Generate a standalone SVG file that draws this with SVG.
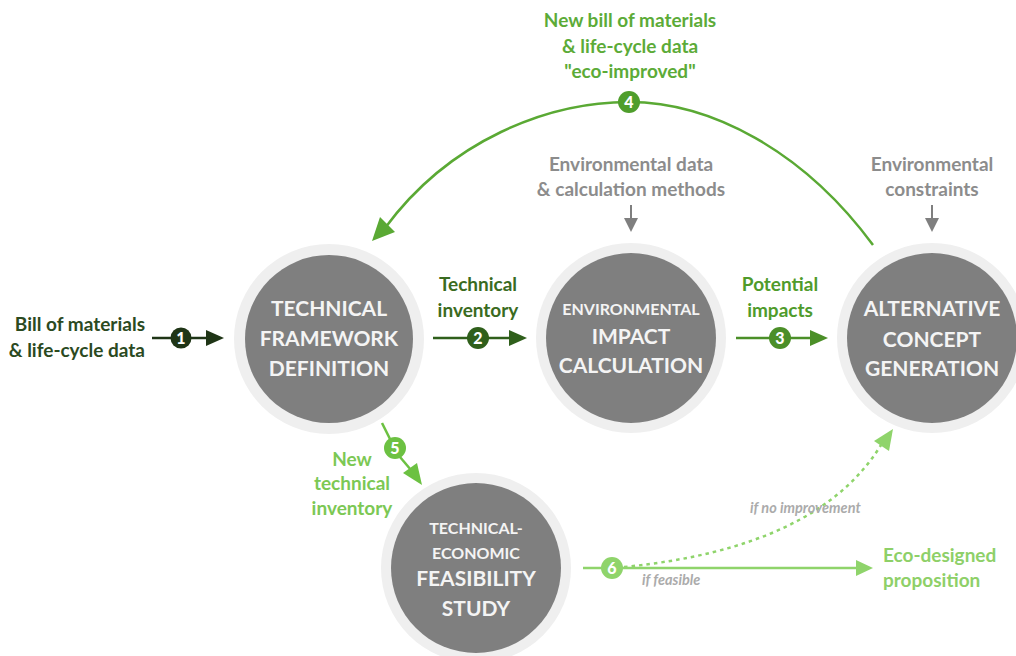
<svg xmlns="http://www.w3.org/2000/svg" width="1016" height="656" viewBox="0 0 1016 656">
<style>
.ring{fill:#efefef}
.core{fill:#7f7f7f}
.ct{font-family:Lato,"Liberation Sans",sans-serif;font-weight:700;fill:#f4f4f4;text-anchor:middle}
.big{font-size:21px}
.sm{font-size:16px}
.lbl{font-family:Lato,"Liberation Sans",sans-serif;font-weight:700;font-size:19px}
.num{font-family:Lato,"Liberation Sans",sans-serif;font-weight:900;font-size:16px;fill:#ffffff;text-anchor:middle}
.it{font-family:Lato,"Liberation Sans",sans-serif;font-style:italic;font-weight:700;font-size:14.5px;fill:#ababab}
</style>
<rect width="1016" height="656" fill="#ffffff"/>

<g id="node-technical-framework">
<circle class="ring" cx="329" cy="339" r="95"/>
<circle class="core" cx="329" cy="339" r="84"/>
<text class="ct big" x="329" y="316">TECHNICAL</text>
<text class="ct big" x="329" y="346">FRAMEWORK</text>
<text class="ct big" x="329" y="376">DEFINITION</text>
</g>

<g id="node-environmental-impact">
<circle class="ring" cx="631" cy="338" r="95"/>
<circle class="core" cx="631" cy="338" r="85"/>
<text class="ct sm" x="631" y="315">ENVIRONMENTAL</text>
<text class="ct big" x="631" y="344">IMPACT</text>
<text class="ct big" x="631" y="373">CALCULATION</text>
</g>

<g id="node-alternative-concept">
<circle class="ring" cx="932" cy="338" r="95"/>
<circle class="core" cx="932" cy="338" r="85"/>
<text class="ct big" x="932" y="316">ALTERNATIVE</text>
<text class="ct big" x="932" y="347">CONCEPT</text>
<text class="ct big" x="932" y="376">GENERATION</text>
</g>

<g id="node-feasibility">
<circle class="ring" cx="476" cy="568" r="95"/>
<circle class="core" cx="476" cy="568" r="85"/>
<text class="ct sm" x="476" y="534">TECHNICAL-</text>
<text class="ct sm" x="476" y="559">ECONOMIC</text>
<text class="ct big" x="476" y="586">FEASIBILITY</text>
<text class="ct big" x="476" y="616">STUDY</text>
</g>

<g id="connectors">
<!-- 1 -->
<line x1="152" y1="338" x2="172" y2="338" stroke="#1f3516" stroke-width="2.5"/>
<line x1="190" y1="338" x2="208" y2="338" stroke="#1f3516" stroke-width="2.5"/>
<path d="M206,330 L224,338 L206,346 z" fill="#1f3516"/>
<circle cx="181" cy="338" r="10.5" fill="#1f3516"/>
<text class="num" x="181" y="343.5">1</text>
<!-- 2 -->
<line x1="433" y1="338" x2="468" y2="338" stroke="#2f5f1b" stroke-width="2.5"/>
<line x1="488" y1="338" x2="511" y2="338" stroke="#2f5f1b" stroke-width="2.5"/>
<path d="M509,330 L527,338 L509,346 z" fill="#2f5f1b"/>
<circle cx="478" cy="338" r="11" fill="#2f5f1b"/>
<text class="num" x="478" y="343.5">2</text>
<!-- 3 -->
<line x1="736" y1="338" x2="770" y2="338" stroke="#4b8f28" stroke-width="2.5"/>
<line x1="790" y1="338" x2="812" y2="338" stroke="#4b8f28" stroke-width="2.5"/>
<path d="M810,330 L828,338 L810,346 z" fill="#4b8f28"/>
<circle cx="780" cy="338" r="11" fill="#4b8f28"/>
<text class="num" x="780" y="343.5">3</text>
<!-- 4 top arc -->
<path d="M873,245 C803,150 710,102 629,102 C548,102 450,140 385,228" fill="none" stroke="#5aa934" stroke-width="2.5"/>
<path d="M372,241 L380,217 L395,232 z" fill="#5aa934"/>
<circle cx="629" cy="102" r="11" fill="#4f9e2c"/>
<text class="num" x="629" y="107.5">4</text>
<!-- gray input arrows -->
<line x1="631" y1="205" x2="631" y2="220" stroke="#7f7f7f" stroke-width="2"/>
<path d="M624,218 L638,218 L631,232 z" fill="#7f7f7f"/>
<line x1="932" y1="205" x2="932" y2="220" stroke="#7f7f7f" stroke-width="2"/>
<path d="M925,218 L939,218 L932,232 z" fill="#7f7f7f"/>
<!-- 5 -->
<line x1="382" y1="423" x2="390" y2="439" stroke="#6cc142" stroke-width="2.5"/>
<line x1="400" y1="457" x2="411" y2="470" stroke="#6cc142" stroke-width="2.5"/>
<path d="M422,485 L403,473 L417,463 z" fill="#6cc142"/>
<circle cx="395" cy="448" r="11" fill="#6cc142"/>
<text class="num" x="395" y="453.5">5</text>
<!-- 6 -->
<line x1="583" y1="568" x2="602" y2="568" stroke="#8fd46b" stroke-width="2.5"/>
<line x1="622" y1="568" x2="858" y2="568" stroke="#8fd46b" stroke-width="2.5"/>
<path d="M856,560 L873,568 L856,576 z" fill="#8fd46b"/>
<path d="M624,567 Q818,548 881,445" fill="none" stroke="#8fd46b" stroke-width="2.5" stroke-dasharray="3.5,4"/>
<path d="M893,429 L889,451 L874,441 z" fill="#8fd46b"/>
<circle cx="612" cy="568" r="11" fill="#8fd46b"/>
<text class="num" x="612" y="573.5">6</text>
</g>

<g id="labels">
<text class="lbl" fill="#2b4a1f" text-anchor="end" x="145" y="331">Bill of materials</text>
<text class="lbl" fill="#2b4a1f" text-anchor="end" x="145" y="357">&amp; life-cycle data</text>
<text class="lbl" fill="#3a6b21" text-anchor="middle" x="478" y="291">Technical</text>
<text class="lbl" fill="#3a6b21" text-anchor="middle" x="478" y="317">inventory</text>
<text class="lbl" fill="#4f9b2b" text-anchor="middle" x="780" y="291">Potential</text>
<text class="lbl" fill="#4f9b2b" text-anchor="middle" x="780" y="317">impacts</text>
<text class="lbl" fill="#5cab38" text-anchor="middle" x="630" y="27">New bill of materials</text>
<text class="lbl" fill="#5cab38" text-anchor="middle" x="630" y="53">&amp; life-cycle data</text>
<text class="lbl" fill="#5cab38" text-anchor="middle" x="630" y="78">"eco-improved"</text>
<text class="lbl" fill="#8c8c8c" text-anchor="middle" x="631" y="171">Environmental data</text>
<text class="lbl" fill="#8c8c8c" text-anchor="middle" x="631" y="196">&amp; calculation methods</text>
<text class="lbl" fill="#8c8c8c" text-anchor="middle" x="932" y="171">Environmental</text>
<text class="lbl" fill="#8c8c8c" text-anchor="middle" x="932" y="196">constraints</text>
<text class="lbl" fill="#7cc854" text-anchor="middle" x="352" y="466">New</text>
<text class="lbl" fill="#7cc854" text-anchor="middle" x="352" y="490">technical</text>
<text class="lbl" fill="#7cc854" text-anchor="middle" x="352" y="515">inventory</text>
<text class="lbl" fill="#8ed068" x="883" y="562">Eco-designed</text>
<text class="lbl" fill="#8ed068" x="883" y="587">proposition</text>
<text class="it" x="642" y="585">if feasible</text>
<text class="it" x="750" y="513">if no improvement</text>
</g>
</svg>
